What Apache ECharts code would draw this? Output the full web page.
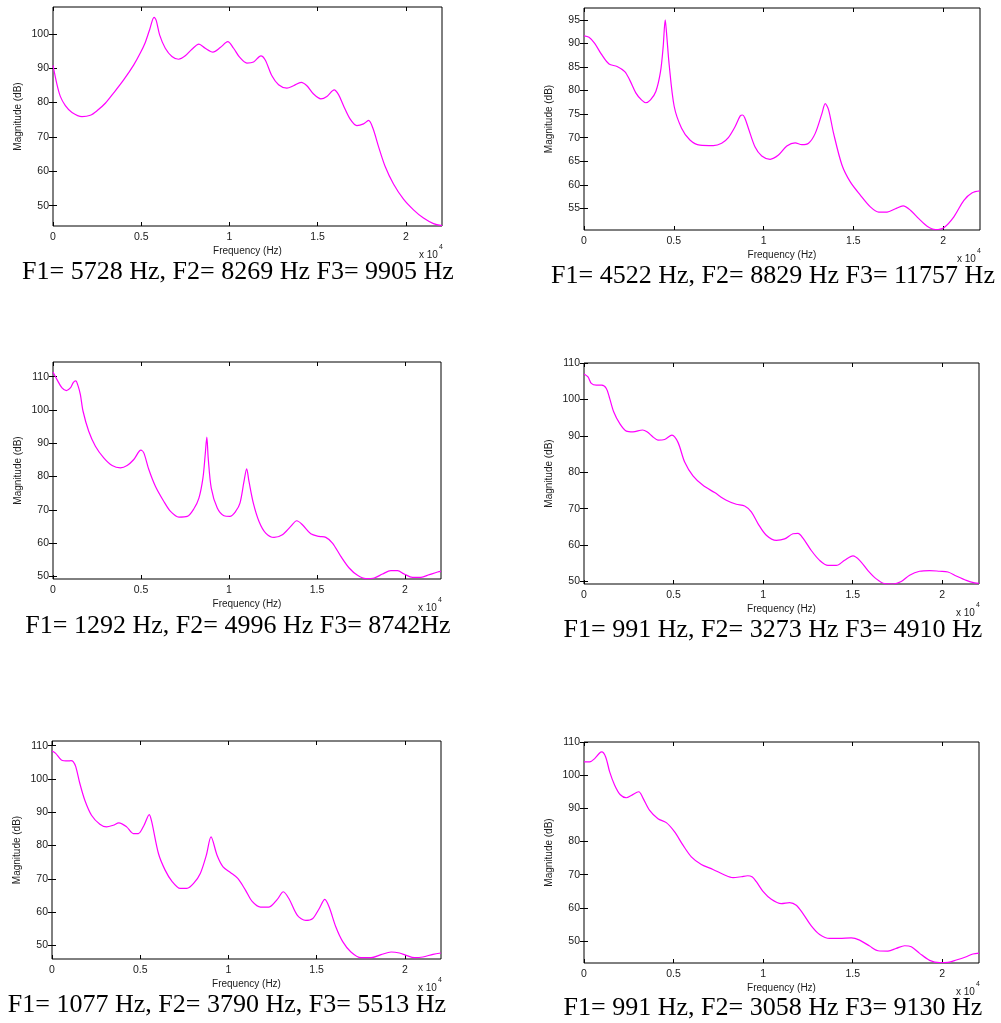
<!DOCTYPE html>
<html>
<head>
<meta charset="utf-8">
<script src="https://cdn.jsdelivr.net/npm/echarts@6/dist/echarts.min.js"></script>
<style>
  html, body { margin: 0; padding: 0; background: #fff; }
  #chart { width: 1001px; height: 1023px; }
</style>
</head>
<body>
<div id="chart"></div>
<script>
// LPC spectral envelopes of six vowel frames: [frequency (Hz), magnitude (dB)]
const spectrum1 = [[0,90.8],[227,85.2],[415,81.8],[700,79.1],[1076,77.1],[1643,75.9],[2115,76.3],[2493,77.6],[2965,79.8],[3437,82.8],[4004,86.6],[4570,90.9],[4948,94.4],[5231,97.5],[5477,101.2],[5728,104.8],[5850,103.9],[6043,99.7],[6365,95.8],[6742,93.4],[7120,92.6],[7498,93.6],[7875,95.5],[8269,97.0],[8631,95.8],[9065,94.7],[9481,96.0],[9905,97.7],[10236,95.8],[10576,93.2],[10991,91.5],[11369,91.8],[11785,93.6],[12030,92.4],[12408,87.8],[12786,85.2],[13258,84.2],[13636,84.9],[14070,85.9],[14391,84.9],[14769,82.5],[15184,81.1],[15524,81.8],[15940,83.7],[16185,82.3],[16468,79.1],[16846,75.2],[17224,73.3],[17602,73.8],[17885,74.8],[18130,72.6],[18452,67.2],[18829,61.4],[19301,56.3],[19868,51.9],[20435,48.8],[21001,46.4],[21568,44.8],[22050,44.2]];

const spectrum2 = [[0,91.6],[279,91.3],[595,90.0],[967,87.7],[1395,85.6],[1842,85.1],[2270,84.0],[2549,82.2],[2884,79.5],[3200,78.0],[3442,77.4],[3702,78.0],[4000,79.8],[4260,84.0],[4409,89.3],[4522,95.0],[4600,92.0],[4744,85.4],[5023,76.6],[5433,72.0],[5898,69.5],[6456,68.4],[7200,68.3],[7665,68.8],[8037,70.0],[8409,72.3],[8700,74.6],[8829,74.8],[8950,74.2],[9153,72.0],[9526,68.0],[9898,66.1],[10363,65.4],[10828,66.3],[11293,68.2],[11757,68.9],[12130,68.5],[12502,68.8],[12875,70.9],[13247,75.1],[13433,77.2],[13619,75.9],[13898,70.9],[14363,64.2],[14828,60.6],[15386,57.8],[15944,55.3],[16410,54.2],[16875,54.2],[17340,54.9],[17768,55.5],[18177,54.6],[18642,52.8],[19107,51.2],[19572,50.5],[20037,50.9],[20595,53.2],[21153,56.7],[21618,58.3],[22050,58.7]];

const spectrum3 = [[0,111.4],[228,109.1],[512,106.6],[759,105.8],[987,106.6],[1150,108.2],[1292,108.7],[1420,107.3],[1556,104.6],[1708,99.6],[2030,93.6],[2410,89.1],[2884,85.6],[3359,83.3],[3833,82.6],[4212,83.3],[4592,85.1],[4996,87.9],[5161,87.1],[5446,82.1],[5825,77.0],[6300,72.5],[6679,69.5],[7154,67.8],[7628,68.0],[8007,70.3],[8292,73.5],[8520,79.5],[8650,86.6],[8742,91.8],[8820,85.6],[8994,76.5],[9336,70.5],[9715,68.2],[10057,68.0],[10379,69.5],[10626,72.0],[10854,78.5],[11006,82.3],[11138,78.5],[11385,72.0],[11708,66.5],[12087,63.0],[12562,61.7],[13036,62.5],[13510,65.0],[13852,66.7],[14174,65.5],[14649,62.8],[15123,62.0],[15503,61.7],[15882,60.0],[16357,56.0],[16831,52.5],[17306,50.3],[17780,49.3],[18254,49.5],[18728,50.7],[19203,51.7],[19582,51.7],[19961,50.7],[20436,49.7],[20910,49.7],[21385,50.5],[21859,51.3],[22050,51.5]];

const spectrum4 = [[0,107.0],[223,106.2],[409,104.4],[688,103.9],[991,103.9],[1247,103.0],[1433,100.3],[1656,96.6],[1991,93.4],[2363,91.3],[2735,91.1],[3273,91.6],[3516,91.1],[3851,89.7],[4130,88.8],[4502,89.0],[4910,90.2],[5247,88.2],[5619,82.8],[6084,79.0],[6642,76.4],[7293,74.4],[7944,72.3],[8502,71.2],[8967,70.7],[9340,69.1],[9712,65.9],[10177,62.7],[10735,61.3],[11200,61.7],[11665,63.1],[11944,63.2],[12223,61.9],[12688,58.5],[13153,55.8],[13619,54.4],[14084,54.4],[14549,55.8],[15014,57.0],[15386,55.8],[15851,53.0],[16317,50.7],[16782,49.4],[17247,49.3],[17712,50.0],[18177,51.7],[18735,52.8],[19293,53.0],[19851,52.8],[20316,52.6],[20781,51.5],[21340,50.3],[21805,49.6],[22050,49.5]];

const spectrum5 = [[0,108.4],[209,107.7],[531,105.7],[911,105.4],[1077,105.5],[1200,105.2],[1347,103.7],[1575,98.7],[1860,93.6],[2239,89.1],[2713,86.4],[3093,85.6],[3472,86.1],[3790,86.8],[4231,85.6],[4611,83.6],[4896,83.6],[5218,86.1],[5513,89.3],[5655,87.1],[6034,77.6],[6413,72.6],[6793,69.3],[7267,67.1],[7647,67.1],[8026,68.6],[8406,71.6],[8748,77.1],[9013,82.6],[9355,77.1],[9696,73.6],[10114,71.9],[10531,70.1],[10967,66.6],[11347,63.2],[11821,61.5],[12296,61.5],[12770,63.8],[13112,66.1],[13434,64.0],[13909,59.0],[14383,57.5],[14763,58.0],[15142,61.0],[15465,63.8],[15711,61.5],[16091,55.5],[16470,51.2],[16945,48.0],[17514,46.3],[18083,46.3],[18652,47.2],[19222,48.0],[19696,47.7],[20076,47.0],[20550,46.3],[21024,46.5],[21594,47.3],[22050,47.7]];

const spectrum6 = [[0,104.0],[316,104.0],[595,105.0],[874,106.7],[991,107.0],[1209,105.5],[1433,101.0],[1712,97.0],[2028,94.1],[2363,93.2],[2642,93.9],[3058,95.0],[3293,93.1],[3665,89.4],[4130,86.9],[4595,85.7],[5060,82.9],[5526,78.9],[5991,75.4],[6549,73.1],[7200,71.6],[7851,69.9],[8317,69.1],[8782,69.4],[9130,69.7],[9400,69.3],[9619,67.9],[9991,65.0],[10456,62.6],[11014,61.3],[11479,61.6],[11851,60.8],[12223,58.3],[12688,54.6],[13153,52.0],[13712,50.8],[14270,50.8],[14921,51.0],[15386,50.3],[15944,48.5],[16410,47.1],[16968,47.0],[17433,47.8],[17898,48.6],[18270,48.3],[18735,46.3],[19293,44.2],[19851,43.5],[20316,43.6],[20781,44.3],[21340,45.3],[21712,46.1],[22050,46.4]];

// Caption under each panel (formant estimates)
const captions = [
  'F1= 5728 Hz, F2= 8269 Hz F3= 9905 Hz',
  'F1= 4522 Hz, F2= 8829 Hz F3= 11757 Hz',
  'F1= 1292 Hz, F2= 4996 Hz F3= 8742Hz',
  'F1= 991 Hz, F2= 3273 Hz F3= 4910 Hz',
  'F1= 1077 Hz, F2= 3790 Hz, F3= 5513 Hz',
  'F1= 991 Hz, F2= 3058 Hz F3= 9130 Hz'
];

// Axis limits and tick values
const freqMax = 22050;
const freqTicks = [0, 5000, 10000, 15000, 20000];
const magRanges = [[44.1, 107.8], [50.4, 97.5], [49.2, 114.4], [49.3, 110], [45.9, 111.4], [43.4, 110]];
const magTicks = [
  [50, 60, 70, 80, 90, 100],
  [55, 60, 65, 70, 75, 80, 85, 90, 95],
  [50, 60, 70, 80, 90, 100, 110],
  [50, 60, 70, 80, 90, 100, 110],
  [50, 60, 70, 80, 90, 100, 110],
  [50, 60, 70, 80, 90, 100, 110]
];
const spectra = [spectrum1, spectrum2, spectrum3, spectrum4, spectrum5, spectrum6];

// Panel boxes (px) and caption anchors (centre x, baseline y)
const boxes = [
  { x: 53, y: 7, w: 389, h: 219, cx: 238, cb: 279 },
  { x: 584, y: 8, w: 396, h: 222, cx: 773, cb: 283 },
  { x: 53, y: 362, w: 388, h: 217, cx: 238, cb: 633 },
  { x: 584, y: 363, w: 395, h: 221, cx: 773, cb: 637 },
  { x: 52, y: 741, w: 389, h: 218, cx: 227, cb: 1012 },
  { x: 584, y: 742, w: 395, h: 221, cx: 773, cb: 1015 }
];

const sansFont = "'Liberation Sans', Arial, Helvetica, sans-serif";
const serifFont = "'Liberation Serif', 'Times New Roman', serif";
const inkColor = '#1a1a1a';
const captionSize = 26;

const grid = [], xAxis = [], yAxis = [], series = [], graphic = [];

boxes.forEach((b, i) => {
  grid.push({ left: b.x, top: b.y, width: b.w, height: b.h, show: true,
              borderColor: '#000', borderWidth: 1, backgroundColor: '#fff' });

  const tick = (vals) => ({ show: true, inside: true, length: 4, customValues: vals,
                            lineStyle: { color: '#000', width: 1 } });

  // bottom (labelled) and top (ticks only) frequency axes
  xAxis.push({
    type: 'value', gridIndex: i, position: 'bottom', min: 0, max: freqMax,
    axisLine: { show: false }, splitLine: { show: false },
    axisTick: tick(freqTicks),
    axisLabel: { customValues: freqTicks, formatter: v => String(v / 10000), margin: 6,
                 fontSize: 10.5, fontFamily: sansFont, color: inkColor },
    name: 'Frequency (Hz)', nameLocation: 'middle', nameGap: 20,
    nameTextStyle: { fontSize: 10, fontFamily: sansFont, color: inkColor }
  });
  xAxis.push({
    type: 'value', gridIndex: i, position: 'top', min: 0, max: freqMax,
    axisLine: { show: false }, splitLine: { show: false },
    axisTick: tick(freqTicks), axisLabel: { show: false }
  });

  // left (labelled) and right (ticks only) magnitude axes
  yAxis.push({
    type: 'value', gridIndex: i, position: 'left', min: magRanges[i][0], max: magRanges[i][1],
    axisLine: { show: false }, splitLine: { show: false },
    axisTick: tick(magTicks[i]),
    axisLabel: { customValues: magTicks[i], margin: 4, fontSize: 10.5,
                 fontFamily: sansFont, color: inkColor },
    name: 'Magnitude (dB)', nameLocation: 'middle', nameGap: 30,
    nameTextStyle: { fontSize: 10, fontFamily: sansFont, color: inkColor }
  });
  yAxis.push({
    type: 'value', gridIndex: i, position: 'right', min: magRanges[i][0], max: magRanges[i][1],
    axisLine: { show: false }, splitLine: { show: false },
    axisTick: tick(magTicks[i]), axisLabel: { show: false }
  });

  series.push({
    type: 'line', xAxisIndex: 2 * i, yAxisIndex: 2 * i, data: spectra[i],
    showSymbol: false, smooth: 0.3, clip: true,
    lineStyle: { color: '#ff00ff', width: 1.2 }, silent: true
  });

  // "x 10^4" exponent under the right end of the frequency axis
  graphic.push({ type: 'text', left: b.x + b.w - 4 - 19, top: b.y + b.h + 24,
    style: { text: 'x 10', fontSize: 10, fontFamily: sansFont, fill: inkColor } });
  graphic.push({ type: 'text', left: b.x + b.w - 3, top: b.y + b.h + 18,
    style: { text: '4', fontSize: 7, fontFamily: sansFont, fill: inkColor } });

  // caption, anchored on its baseline
  graphic.push({ type: 'text', x: b.cx, y: b.cb + 0.23 * captionSize,
    style: { text: captions[i], fontSize: captionSize, fontFamily: serifFont, fill: '#000',
             align: 'center', verticalAlign: 'bottom' } });
});

const chart = echarts.init(document.getElementById('chart'), null, { renderer: 'canvas' });
chart.setOption({ animation: false, backgroundColor: '#fff', grid, xAxis, yAxis, series, graphic });
</script>
</body>
</html>
